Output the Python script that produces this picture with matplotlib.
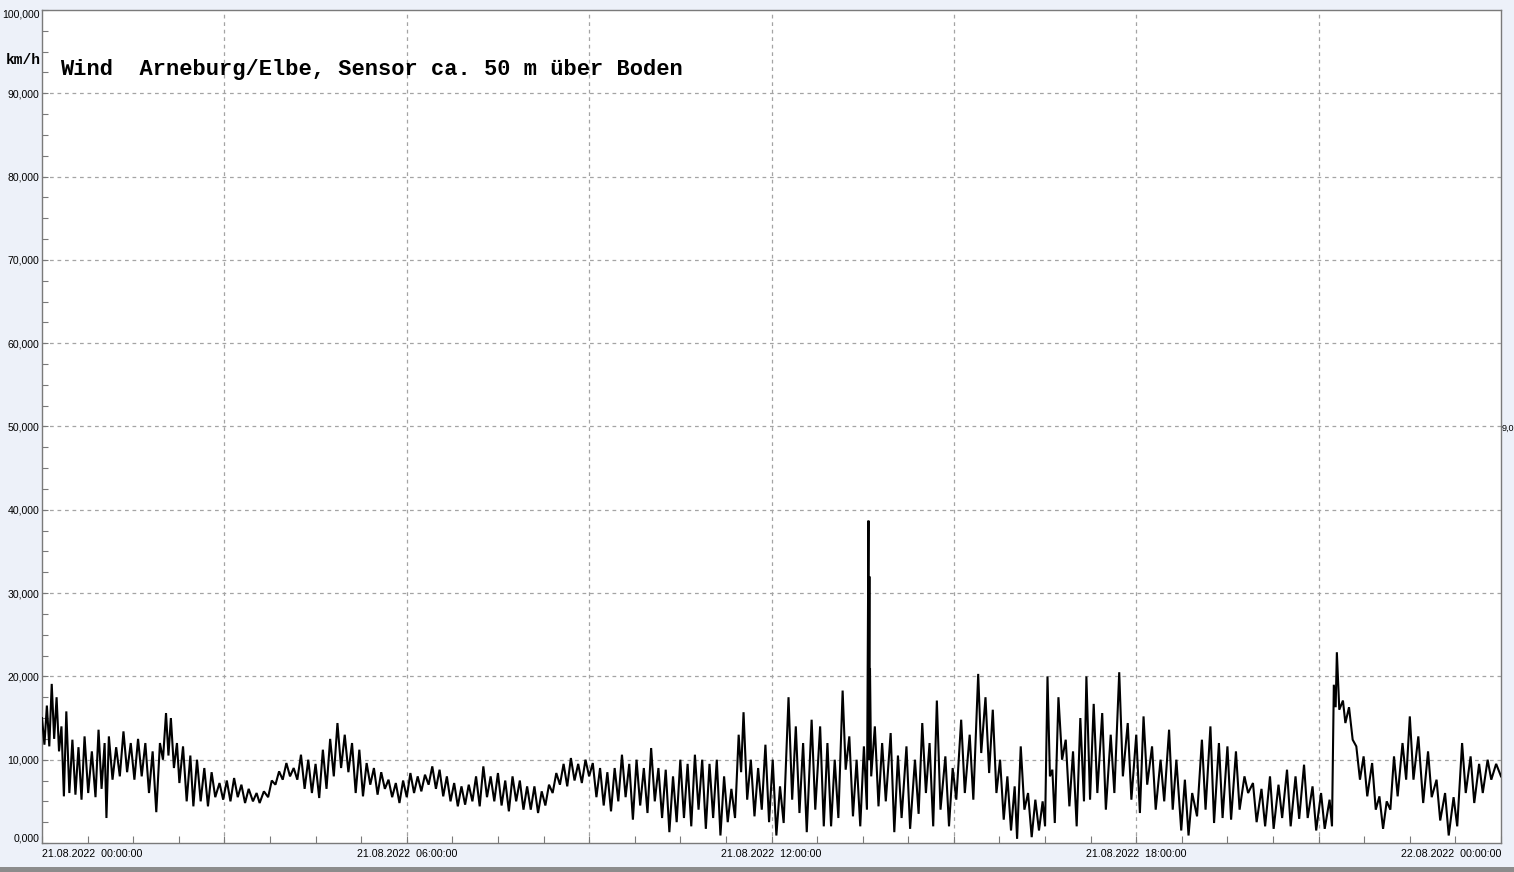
import numpy as np
import matplotlib.pyplot as plt
from matplotlib.patches import Rectangle

# Wind speed trace, turning points (hours since 21.08.2022 00:00, km/h)
hours = [
    0.00, 0.04, 0.08, 0.12, 0.16, 0.20, 0.24, 0.28, 0.32, 0.36, 0.40, 0.45, 0.50, 0.55, 0.60, 0.65,
    0.70, 0.76, 0.82, 0.88, 0.93, 0.98, 1.03, 1.06, 1.10, 1.16, 1.22, 1.28, 1.34, 1.40, 1.46, 1.52,
    1.58, 1.64, 1.70, 1.76, 1.82, 1.88, 1.94, 1.99, 2.04, 2.08, 2.12, 2.17, 2.22, 2.26, 2.32, 2.38,
    2.44, 2.49, 2.55, 2.61, 2.67, 2.73, 2.79, 2.85, 2.92, 2.98, 3.04, 3.10, 3.16, 3.22, 3.28, 3.34,
    3.40, 3.47, 3.53, 3.58, 3.65, 3.72, 3.78, 3.84, 3.90, 3.96, 4.02, 4.08, 4.14, 4.20, 4.26, 4.32,
    4.38, 4.44, 4.50, 4.56, 4.62, 4.68, 4.74, 4.80, 4.86, 4.92, 4.98, 5.04, 5.10, 5.16, 5.22, 5.28,
    5.34, 5.40, 5.46, 5.52, 5.58, 5.64, 5.70, 5.76, 5.82, 5.88, 5.94, 6.00, 6.06, 6.12, 6.18, 6.24,
    6.30, 6.36, 6.42, 6.48, 6.54, 6.60, 6.66, 6.72, 6.78, 6.84, 6.90, 6.96, 7.02, 7.08, 7.14, 7.20,
    7.26, 7.32, 7.38, 7.44, 7.50, 7.56, 7.62, 7.68, 7.74, 7.80, 7.86, 7.92, 7.98, 8.04, 8.10, 8.16,
    8.22, 8.28, 8.34, 8.40, 8.46, 8.52, 8.58, 8.64, 8.70, 8.76, 8.82, 8.88, 8.94, 9.00, 9.06, 9.12,
    9.18, 9.24, 9.30, 9.36, 9.42, 9.48, 9.54, 9.60, 9.66, 9.72, 9.78, 9.84, 9.90, 9.96, 10.02, 10.08,
    10.14, 10.20, 10.26, 10.32, 10.38, 10.44, 10.50, 10.56, 10.62, 10.68, 10.74, 10.80, 10.86, 10.92, 10.98, 11.04,
    11.10, 11.16, 11.22, 11.28, 11.34, 11.40, 11.46, 11.50, 11.54, 11.60, 11.66, 11.72, 11.78, 11.84, 11.90, 11.96,
    12.02, 12.08, 12.14, 12.20, 12.28, 12.34, 12.40, 12.46, 12.52, 12.58, 12.66, 12.72, 12.80, 12.86, 12.92, 12.98,
    13.04, 13.10, 13.17, 13.22, 13.28, 13.34, 13.40, 13.46, 13.52, 13.57, 13.595, 13.60, 13.61, 13.615, 13.62, 13.64,
    13.70, 13.76, 13.82, 13.88, 13.96, 14.02, 14.08, 14.14, 14.22, 14.28, 14.36, 14.42, 14.48, 14.54, 14.60, 14.66,
    14.72, 14.78, 14.86, 14.92, 14.98, 15.04, 15.12, 15.18, 15.26, 15.32, 15.40, 15.45, 15.52, 15.58, 15.64, 15.70,
    15.76, 15.82, 15.88, 15.94, 16.00, 16.04, 16.10, 16.16, 16.22, 16.28, 16.34, 16.40, 16.46, 16.50, 16.54, 16.58,
    16.62, 16.66, 16.72, 16.78, 16.84, 16.90, 16.96, 17.02, 17.08, 17.14, 17.18, 17.24, 17.30, 17.36, 17.44, 17.50,
    17.58, 17.64, 17.72, 17.78, 17.86, 17.92, 18.00, 18.06, 18.12, 18.18, 18.26, 18.32, 18.40, 18.46, 18.54, 18.60,
    18.66, 18.74, 18.80, 18.86, 18.92, 19.00, 19.08, 19.14, 19.22, 19.28, 19.36, 19.42, 19.50, 19.56, 19.64, 19.70,
    19.78, 19.84, 19.92, 19.98, 20.06, 20.12, 20.20, 20.26, 20.34, 20.40, 20.48, 20.54, 20.62, 20.68, 20.76, 20.82,
    20.90, 20.96, 21.04, 21.10, 21.18, 21.22, 21.25, 21.28, 21.30, 21.34, 21.40, 21.44, 21.50, 21.56, 21.62, 21.68,
    21.74, 21.80, 21.88, 21.94, 22.00, 22.06, 22.12, 22.18, 22.24, 22.30, 22.38, 22.44, 22.50, 22.56, 22.64, 22.72,
    22.80, 22.86, 22.94, 23.00, 23.08, 23.14, 23.22, 23.28, 23.36, 23.42, 23.50, 23.56, 23.64, 23.70, 23.78, 23.84,
    23.92, 24.00,
]
speed = [
    15.0, 11.8, 16.5, 11.6, 19.1, 12.5, 17.5, 11.0, 14.0, 5.6, 15.8, 6.0, 12.4, 5.8, 11.5, 5.2,
    12.8, 6.0, 11.0, 5.5, 13.6, 6.5, 12.0, 3.0, 12.8, 7.6, 11.5, 8.0, 13.4, 8.5, 12.0, 7.6,
    12.5, 8.0, 12.0, 6.0, 11.0, 3.7, 12.0, 10.0, 15.6, 10.5, 15.0, 9.0, 12.0, 7.2, 11.6, 5.0,
    10.5, 4.4, 10.0, 5.0, 9.0, 4.4, 8.5, 5.5, 7.2, 5.2, 7.5, 5.0, 7.8, 5.5, 7.0, 4.8,
    6.5, 5.0, 6.0, 4.8, 6.2, 5.5, 7.5, 7.0, 8.6, 7.6, 9.6, 8.0, 9.0, 7.6, 10.6, 6.5,
    10.0, 6.0, 9.5, 5.4, 11.2, 6.5, 12.5, 8.0, 14.4, 9.0, 13.0, 8.5, 12.0, 6.0, 11.2, 5.6,
    9.6, 7.0, 9.0, 5.8, 8.5, 6.5, 7.6, 5.5, 7.2, 4.8, 7.5, 5.5, 8.4, 6.0, 8.0, 6.2,
    8.2, 7.0, 9.2, 6.5, 8.8, 5.6, 8.0, 5.0, 7.2, 4.4, 6.8, 4.6, 7.0, 5.0, 8.0, 4.4,
    9.2, 5.5, 8.0, 5.0, 8.4, 4.5, 7.5, 3.8, 8.0, 5.0, 7.5, 4.0, 6.8, 4.0, 6.8, 3.6,
    6.2, 4.5, 7.0, 6.0, 8.4, 7.0, 9.5, 6.8, 10.2, 7.5, 9.5, 7.2, 10.0, 8.0, 9.6, 5.5,
    9.0, 4.5, 8.5, 3.8, 9.0, 5.0, 10.6, 5.5, 9.5, 2.8, 10.0, 4.5, 9.0, 3.6, 11.4, 5.0,
    9.0, 3.0, 8.8, 1.3, 8.0, 2.5, 10.0, 3.0, 9.5, 2.0, 10.6, 4.0, 10.0, 1.7, 9.5, 3.0,
    10.0, 0.9, 8.0, 2.5, 6.5, 3.0, 13.0, 8.5, 15.7, 5.2, 10.0, 3.2, 9.0, 4.0, 11.8, 2.5,
    10.0, 0.9, 6.8, 2.4, 17.5, 5.2, 14.0, 3.6, 12.0, 1.3, 14.8, 4.0, 14.0, 2.0, 12.0, 2.0,
    10.0, 3.0, 18.3, 8.8, 12.8, 3.2, 10.0, 2.0, 11.6, 4.0, 38.7, 10.0, 32.0, 12.0, 21.0, 8.0,
    14.0, 4.4, 12.0, 5.0, 13.2, 1.3, 10.5, 3.0, 11.6, 1.7, 10.0, 3.5, 14.4, 6.0, 12.0, 2.0,
    17.1, 4.0, 10.4, 2.0, 9.0, 5.2, 14.8, 6.0, 13.0, 5.2, 20.3, 10.8, 17.5, 8.4, 16.0, 6.0,
    10.0, 2.8, 8.0, 1.5, 6.8, 0.5, 11.6, 4.0, 6.0, 0.7, 5.2, 1.5, 5.0, 2.0, 20.0, 8.0,
    8.8, 2.4, 17.5, 10.0, 12.4, 4.4, 11.0, 2.0, 15.0, 5.0, 20.0, 5.2, 16.7, 6.0, 15.6, 4.0,
    13.0, 6.0, 20.5, 8.0, 14.4, 5.2, 13.0, 3.6, 15.2, 7.0, 11.6, 4.0, 10.0, 5.0, 13.6, 4.0,
    10.0, 1.5, 7.6, 0.9, 6.0, 3.2, 12.4, 4.0, 14.0, 2.4, 12.0, 3.0, 11.6, 2.8, 11.0, 4.0,
    8.0, 6.0, 7.2, 2.5, 6.5, 2.0, 8.0, 1.7, 7.0, 3.0, 8.8, 2.0, 8.0, 2.9, 9.4, 3.0,
    6.8, 1.5, 6.0, 1.7, 5.2, 2.0, 19.0, 16.3, 22.9, 16.0, 17.1, 14.4, 16.3, 12.4, 11.6, 7.6,
    10.4, 5.6, 9.6, 4.0, 5.6, 1.7, 5.0, 4.0, 10.4, 5.6, 12.0, 7.6, 15.2, 7.6, 12.8, 4.8,
    11.0, 5.5, 7.6, 2.7, 6.0, 0.9, 5.5, 2.0, 12.0, 6.0, 10.4, 4.8, 9.5, 6.0, 10.0, 7.6,
    9.5, 8.0,
]

y_ticks = [0, 10, 20, 30, 40, 50, 60, 70, 80, 90, 100]
y_labels = ['0,000', '10,000', '20,000', '30,000', '40,000', '50,000',
            '60,000', '70,000', '80,000', '90,000', '100,000']
x_ticks = [0, 6, 12, 18, 24]
x_labels = ['21.08.2022  00:00:00', '21.08.2022  06:00:00', '21.08.2022  12:00:00',
            '21.08.2022  18:00:00', '22.08.2022  00:00:00']

W, H = 1514, 872
fig = plt.figure(figsize=(W / 100, H / 100), dpi=100)
fig.patch.set_facecolor('#edf1f9')

# plot area in pixel coordinates
x0, x1, y0, y1 = 42, 1501, 10, 843
ax = fig.add_axes([x0 / W, 1 - y1 / H, (x1 - x0) / W, (y1 - y0) / H])
ax.set_facecolor('white')

ax.plot(hours, speed, color='black', lw=1.5, solid_joinstyle='miter', zorder=3)

ax.set_xlim(0, 24)
ax.set_ylim(0, 100)

# grid: dashed, every 10 km/h and every 3 hours
for v in y_ticks[1:-1]:
    ax.axhline(v, color='#a4a4a4', lw=0.9, ls=(0, (3, 3)), zorder=0)
for h in np.arange(3, 24, 3):
    ax.axvline(h, color='#a4a4a4', lw=0.9, ls=(0, (3, 3)), zorder=0)

for s in ax.spines.values():
    s.set_color('#7a7a7a')
    s.set_linewidth(1.0)

ax.set_yticks(y_ticks)
ax.set_yticklabels(y_labels, fontsize=7.6, family='Liberation Sans')
ax.set_yticks(np.arange(0, 100.1, 2.5), minor=True)
ax.tick_params(axis='y', which='both', direction='in', length=4, width=0.8,
               color='#7a7a7a', pad=2)
ylab = ax.get_yticklabels()
ylab[0].set_va('bottom')
ylab[-1].set_va('top')

ax.set_xticks(x_ticks)
ax.set_xticklabels(x_labels, fontsize=7.7, family='Liberation Sans')
ax.set_xticks(np.arange(0, 24.01, 0.75), minor=True)
ax.tick_params(axis='x', which='both', direction='in', length=5, width=0.8,
               color='#7a7a7a', pad=4)
xlab = ax.get_xticklabels()
xlab[0].set_ha('left')
xlab[-1].set_ha('right')

fig.text(60 / W, 1 - 69 / H, 'Wind  Arneburg/Elbe, Sensor ca. 50 m über Boden',
         family='Liberation Mono', fontweight='bold', fontsize=15.8,
         va='center', ha='left')
fig.text(6 / W, 1 - 60 / H, 'km/h', family='Liberation Mono', fontweight='bold',
         fontsize=10.5, va='center', ha='left')
fig.text(1502 / W, 1 - 428 / H, '9,0', family='Liberation Sans', fontsize=6.5,
         va='center', ha='left')

# window frame strip at the bottom
fig.patches.append(Rectangle((0, 0), 1, 5 / H, transform=fig.transFigure,
                             facecolor='#8c8c8c', edgecolor='none'))

fig.savefig('out.png', dpi=100, facecolor=fig.get_facecolor())
